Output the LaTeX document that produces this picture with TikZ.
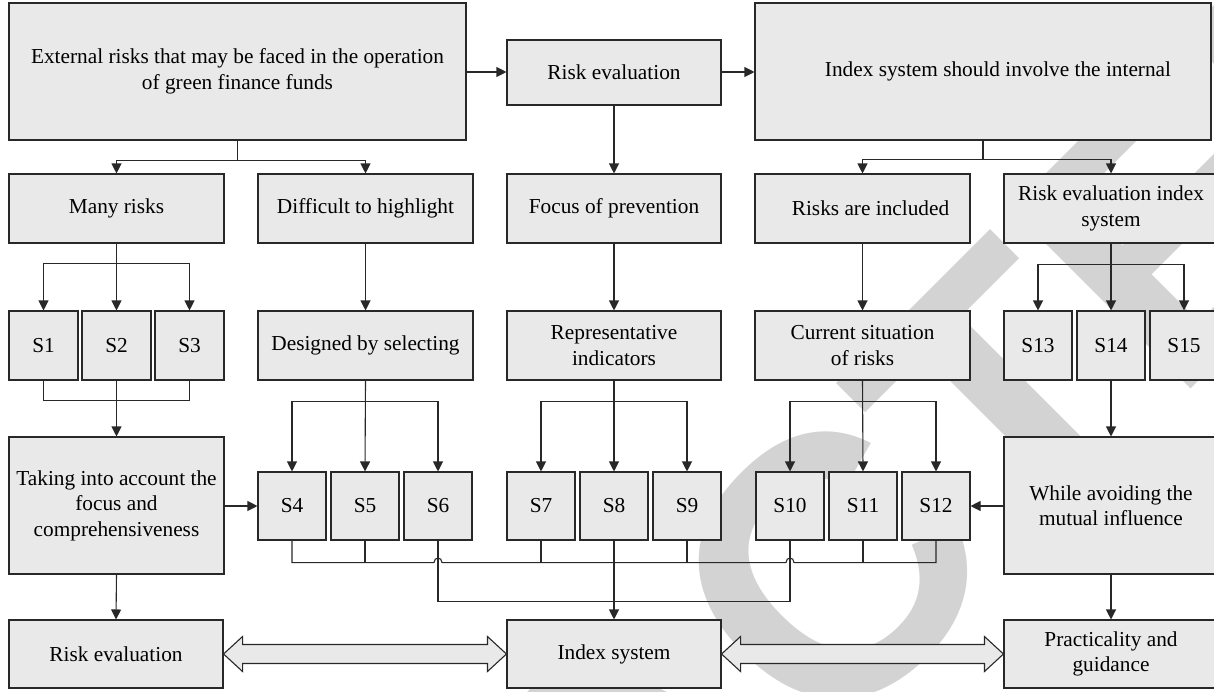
\documentclass[tikz,border=0pt]{standalone}
\usepackage{fontspec}
\setmainfont{Liberation Serif}
\newfontfamily\wmfont{Liberation Sans}
\usetikzlibrary{arrows.meta,calc}
\definecolor{boxfill}{RGB}{233,233,233}
\definecolor{edge}{RGB}{40,40,40}
\definecolor{wmgray}{RGB}{211,211,211}
\begin{document}
\begin{tikzpicture}[x=1pt,y=-1pt,
  box/.style={draw=edge,fill=boxfill,line width=1.1pt,align=center,inner sep=0pt,
    font=\fontsize{21.3}{25.5}\selectfont},
  sz/.style 2 args={minimum width=#1pt,minimum height=#2pt},
  line/.style={draw=edge,line width=1.1pt},
  arr/.style={line,-{Triangle[width=10pt,length=10pt]}},
  dbl/.style={draw=edge,fill=boxfill,line width=1.1pt,line join=miter},
  wm/.style={text=wmgray,inner sep=0pt,font=\wmfont\bfseries\fontsize{370}{370}\selectfont}]
\useasboundingbox (0,0) rectangle (1214,691);

% background stamp
\node[wm,rotate=45] (stamp) at (640,760) {RETRACTED};

% top row
\node[box,sz={457}{137}] (ext) at (237.5,71.5) {External risks that may be faced in the operation\\of green finance funds};
\node[box,sz={214}{65}] (reval) at (614,72.5) {Risk evaluation};
\node[box,sz={456}{137}] (idx) at (983,71.5) {\hspace*{30pt}Index system should involve the internal};

% second row
\node[box,sz={215}{69}] (many) at (116.5,208.5) {Many risks};
\node[box,sz={215}{69}] (diff) at (365.5,208.5) {Difficult to highlight};
\node[box,sz={214}{69}] (focus) at (614,208.5) {Focus of prevention};
\node[box,sz={215}{69}] (incl) at (862.5,208.5) {\hspace*{16pt}Risks are included};
\node[box,sz={214}{69}] (rei) at (1111,208.5) {Risk evaluation index\\system};

% third row
\node[box,sz={69}{69}] (s1) at (43.5,345.5) {S1};
\node[box,sz={69}{69}] (s2) at (116.5,345.5) {S2};
\node[box,sz={69}{69}] (s3) at (189.5,345.5) {S3};
\node[box,sz={215}{69}] (design) at (365.5,345.5) {Designed by selecting};
\node[box,sz={214}{69}] (repr) at (614,345.5) {Representative\\indicators};
\node[box,sz={215}{69}] (curr) at (862.5,345.5) {Current situation\\of risks};
\node[box,sz={68}{69}] (s13) at (1038,345.5) {S13};
\node[box,sz={68}{69}] (s14) at (1111,345.5) {S14};
\node[box,sz={68}{69}] (s15) at (1184,345.5) {S15};

% fourth row
\node[box,sz={215}{137}] (taking) at (116.5,505.5) {Taking into account the\\focus and\\comprehensiveness};
\node[box,sz={68}{68}] (s4) at (292,506) {S4};
\node[box,sz={68}{68}] (s5) at (365,506) {S5};
\node[box,sz={68}{68}] (s6) at (438,506) {S6};
\node[box,sz={68}{68}] (s7) at (541,506) {S7};
\node[box,sz={68}{68}] (s8) at (614,506) {S8};
\node[box,sz={68}{68}] (s9) at (687,506) {S9};
\node[box,sz={68}{68}] (s10) at (790,506) {S10};
\node[box,sz={68}{68}] (s11) at (863,506) {S11};
\node[box,sz={68}{68}] (s12) at (936,506) {S12};
\node[box,sz={214}{137}] (while) at (1111,505.5) {While avoiding the\\mutual influence};

% bottom row
\node[box,sz={214}{68}] (reval2) at (116,654) {Risk evaluation};
\node[box,sz={214}{68}] (isys) at (614,654) {Index system};
\node[box,sz={214}{68}] (prac) at (1111,654) {Practicality and\\guidance};

% top row links
\draw[arr] (ext.east |- 0,72) -- (reval.west |- 0,72);
\draw[arr] (reval.east |- 0,72) -- (idx.west |- 0,72);
\draw[line] (ext.south) -- ++(0,20) coordinate (e1);
\draw[arr] (e1) -| (many.north);
\draw[arr] (e1) -| (diff.north);
\draw[arr] (reval.south) -- (focus.north);
\draw[line] (idx.south) -- ++(0,19) coordinate (i1);
\draw[arr] (i1) -| (incl.north);
\draw[arr] (i1) -| (rei.north);

% second to third row
\draw[arr] (many.south) -- (s2.north);
\coordinate (m1) at ($(many.south)+(0,20)$);
\draw[arr] (m1) -| (s1.north);
\draw[arr] (m1) -| (s3.north);
\draw[arr] (diff.south) -- (design.north);
\draw[arr] (focus.south) -- (repr.north);
\draw[arr] (incl.south) -- (curr.north);
\draw[arr] (rei.south) -- (s14.north);
\coordinate (r1) at ($(rei.south)+(0,21)$);
\draw[arr] (r1) -| (s13.north);
\draw[arr] (r1) -| (s15.north);

% third to fourth row
\draw[line] (s1.south) -- ++(0,20) -| (s3.south);
\draw[arr] (s2.south) -- (taking.north);
\draw[arr] (design.south) -- (s5.north);
\coordinate (d1) at ($(design.south)+(0,21)$);
\draw[arr] (d1) -| (s4.north);
\draw[arr] (d1) -| (s6.north);
\draw[arr] (repr.south) -- (s8.north);
\coordinate (p1) at ($(repr.south)+(0,21)$);
\draw[arr] (p1) -| (s7.north);
\draw[arr] (p1) -| (s9.north);
\draw[arr] (curr.south) -- (s11.north);
\coordinate (c1) at ($(curr.south)+(0,21)$);
\draw[arr] (c1) -| (s10.north);
\draw[arr] (c1) -| (s12.north);
\draw[arr] (s14.south) -- (while.north);

% side links into the S row
\draw[arr] (taking.east |- s4.west) -- (s4.west);
\draw[arr] (while.west |- s12.east) -- (s12.east);

% collecting bus under the S row, hopping over the S6 and S10 leads
\coordinate (b4) at ($(s4.south)+(0,22)$);
\coordinate (h6) at (s6.south |- b4);
\coordinate (h10) at (s10.south |- b4);
\draw[line] (s4.south) -- (b4)
  -- ($(h6)+(-4,0)$) .. controls ($(h6)+(-4,-6)$) and ($(h6)+(4,-6)$) .. ($(h6)+(4,0)$)
  -- ($(h10)+(-4,0)$) .. controls ($(h10)+(-4,-6)$) and ($(h10)+(4,-6)$) .. ($(h10)+(4,0)$)
  -- (s12.south |- b4) -- (s12.south);
\draw[line] (s5.south) -- (s5.south |- b4);
\draw[line] (s7.south) -- (s7.south |- b4);
\draw[line] (s9.south) -- (s9.south |- b4);
\draw[line] (s11.south) -- (s11.south |- b4);
\draw[line] (s6.south) -- ++(0,61) coordinate (l6) -- (s10.south |- l6) -- (s10.south);
\draw[arr] (s8.south) -- (isys.north);

% down to the bottom row
\draw[arr] (taking.south) -- (reval2.north);
\draw[arr] (while.south) -- (prac.north);

% two-way block arrows
\draw[dbl] (reval2.east) -- ++(19,-17.5) -- ++(0,8) -- ($(isys.west)+(-19,-9.5)$) -- ++(0,-8)
  -- (isys.west) -- ++(-19,17.5) -- ++(0,-8) -- ($(reval2.east)+(19,9.5)$) -- ++(0,8) -- cycle;
\draw[dbl] (isys.east) -- ++(19,-17.5) -- ++(0,8) -- ($(prac.west)+(-19,-9.5)$) -- ++(0,-8)
  -- (prac.west) -- ++(-19,17.5) -- ++(0,-8) -- ($(isys.east)+(19,9.5)$) -- ++(0,8) -- cycle;
\end{tikzpicture}
\end{document}
